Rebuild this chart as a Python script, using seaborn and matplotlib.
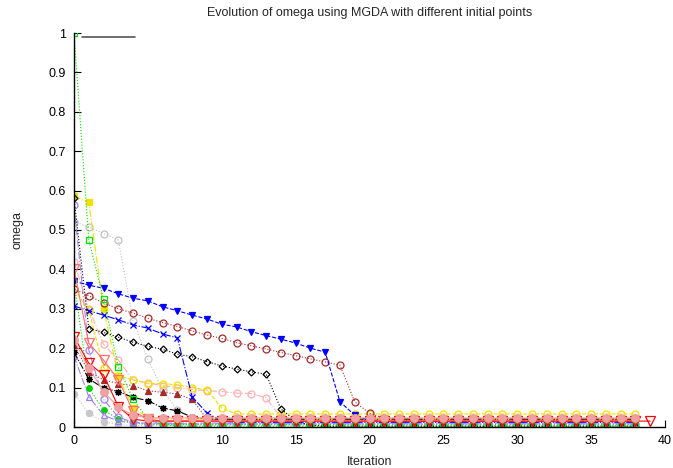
import numpy as np
import matplotlib
matplotlib.use("Agg")
import matplotlib.pyplot as plt
from matplotlib.lines import Line2D
import seaborn as sns

# ---- data ----
iters = list(range(39))
iters_long = list(range(40))

green_sq = [1.0, 0.475, 0.325, 0.153, 0.07, 0.02, 0.006] + [0.002] * 32
yellow_sq = [0.586, 0.57, 0.30, 0.13, 0.048, 0.025] + [0.02] * 33
black_dia = [0.581, 0.25, 0.24, 0.228, 0.215, 0.205, 0.197, 0.185, 0.178, 0.166,
             0.155, 0.147, 0.140, 0.134, 0.046, 0.015, 0.004] + [0.002] * 22
purple_circ = [0.563, 0.195, 0.07, 0.025, 0.012] + [0.008] * 34
gray_circ = [0.521, 0.508, 0.491, 0.475, 0.27, 0.172, 0.094, 0.043, 0.022] + [0.02] * 30
pink_circ = [0.42, 0.30, 0.21, 0.17, 0.119, 0.112, 0.105, 0.10, 0.095, 0.092,
             0.09, 0.086, 0.085, 0.074, 0.025] + [0.022] * 24
yellow_circ = [0.35, 0.297, 0.15, 0.13, 0.12, 0.11, 0.11, 0.107, 0.10, 0.094,
               0.048] + [0.033] * 28
red_tri_a = [0.40, 0.213, 0.17, 0.12, 0.04, 0.02] + [0.015] * 33
red_tri_b = [0.229, 0.162, 0.132, 0.052, 0.02] + [0.015] * 35
black_star = [0.19, 0.122, 0.099, 0.09, 0.075, 0.067, 0.048, 0.041, 0.025] + [0.02] * 30
brown_tri = [0.208, 0.14, 0.12, 0.11, 0.105, 0.092, 0.088, 0.084, 0.07, 0.02] + [0.018] * 29
brown_circ = [0.35, 0.333, 0.315, 0.30, 0.289, 0.276, 0.265, 0.255, 0.244, 0.233,
              0.225, 0.214, 0.206, 0.198, 0.189, 0.181, 0.173, 0.165, 0.157,
              0.064, 0.035, 0.022] + [0.02] * 17
blue_tri = [0.37, 0.36, 0.352, 0.338, 0.327, 0.32, 0.305, 0.295, 0.284, 0.274,
            0.261, 0.254, 0.242, 0.232, 0.223, 0.213, 0.20, 0.19, 0.064, 0.03,
            0.016] + [0.014] * 18
blue_x = [0.307, 0.295, 0.284, 0.272, 0.259, 0.251, 0.236, 0.226, 0.076, 0.036,
          0.015] + [0.012] * 28
gray_dot = [0.085, 0.035, 0.013, 0.006] + [0.004] * 35
green_dot = [0.373, 0.10, 0.043, 0.02, 0.01] + [0.006] * 34
purple_tri = [0.18, 0.077, 0.03, 0.015] + [0.01] * 35
pink_fill = [0.22, 0.15, 0.09, 0.05, 0.03] + [0.023] * 34

title = "Evolution of omega using MGDA with different initial points"
xlabel = "Iteration"
ylabel = "omega"
yticks = [0, 0.1, 0.2, 0.3, 0.4, 0.5, 0.6, 0.7, 0.8, 0.9, 1.0]
xticks = [0, 5, 10, 15, 20, 25, 30, 35, 40]

# ---- styles: (x, y, color, linestyle, marker, size, filled) ----
series = [
    (iters, gray_dot, "#c8c8c8", ":", "o", 4.5, True),
    (iters, green_dot, "#00d000", ":", "o", 4, True),
    (iters, purple_tri, "#a080f0", "-.", "^", 5, False),
    (iters, purple_circ, "#a080f0", "-.", "o", 5, False),
    (iters, gray_circ, "#c0c0c0", ":", "o", 5, False),
    (iters, pink_circ, "#ffb0b0", "-.", "o", 5, False),
    (iters, yellow_sq, "#f0e000", "-.", "s", 4.5, True),
    (iters, yellow_circ, "#f0e000", "--", "o", 5, False),
    (iters, brown_tri, "#a52a2a", ":", "^", 4.5, True),
    (iters, black_star, "#000000", "-.", (8, 2, 0), 5, False),
    (iters, blue_x, "#0000ff", "-.", "x", 5, False),
    (iters, brown_circ, "#a52a2a", ":", "o", 5, False),
    (iters, blue_tri, "#0000ff", "--", "v", 4.5, True),
    (iters, black_dia, "#000000", ":", "D", 3.5, False),
    (iters, green_sq, "#00e000", ":", "s", 5, False),
    (iters, red_tri_a, "#ff7070", "-", "v", 6.5, False),
    (iters_long, red_tri_b, "#ff0000", "-", "v", 7, False),
    (iters, pink_fill, "#f0a0a0", "-", "o", 5.5, True),
]

sns.set_style("white")
plt.rcParams["font.family"] = ["Liberation Sans", "DejaVu Sans"]

fig = plt.figure(figsize=(6.73, 4.68), dpi=100)
ax = fig.add_axes([74 / 673, 1 - 427 / 468, (665 - 74) / 673, (427 - 33) / 468])

for x, y, col, ls, mk, ms, filled in series:
    sns.lineplot(x=x, y=y, ax=ax, color=col, linestyle=ls, linewidth=0.8,
                 marker=mk, markersize=ms,
                 markerfacecolor=col if filled else "none",
                 markeredgecolor=col, markeredgewidth=0.9,
                 legend=False, errorbar=None, sort=False)

ax.set_xlim(0, 40)
ax.set_ylim(0, 1)
ax.set_xticks(xticks)
ax.set_yticks(yticks)
ax.set_xticklabels([f"{v:g}" for v in xticks])
ax.set_yticklabels([f"{v:g}" for v in yticks])
ax.tick_params(direction="in", length=5, width=0.8, labelsize=9, colors="black",
               left=True, bottom=True, pad=6)
for s in ["top", "right"]:
    ax.spines[s].set_visible(False)
for s in ["left", "bottom"]:
    ax.spines[s].set_color("black")
    ax.spines[s].set_linewidth(1.0)

ax.set_title(title, fontsize=9, pad=12)
ax.set_xlabel(xlabel, fontsize=9, labelpad=6)
ax.set_ylabel(ylabel, fontsize=9, labelpad=18)

leg_handle = Line2D([], [], color="#555555", linewidth=1.2)
ax.legend(handles=[leg_handle], labels=[""], loc="upper left",
          bbox_to_anchor=(8 / 591, 1.0 + 1 / 394), frameon=False, handlelength=4.2,
          borderpad=0.0, borderaxespad=0.0, fontsize=9, handletextpad=0)

fig.savefig("out.png", dpi=100)
